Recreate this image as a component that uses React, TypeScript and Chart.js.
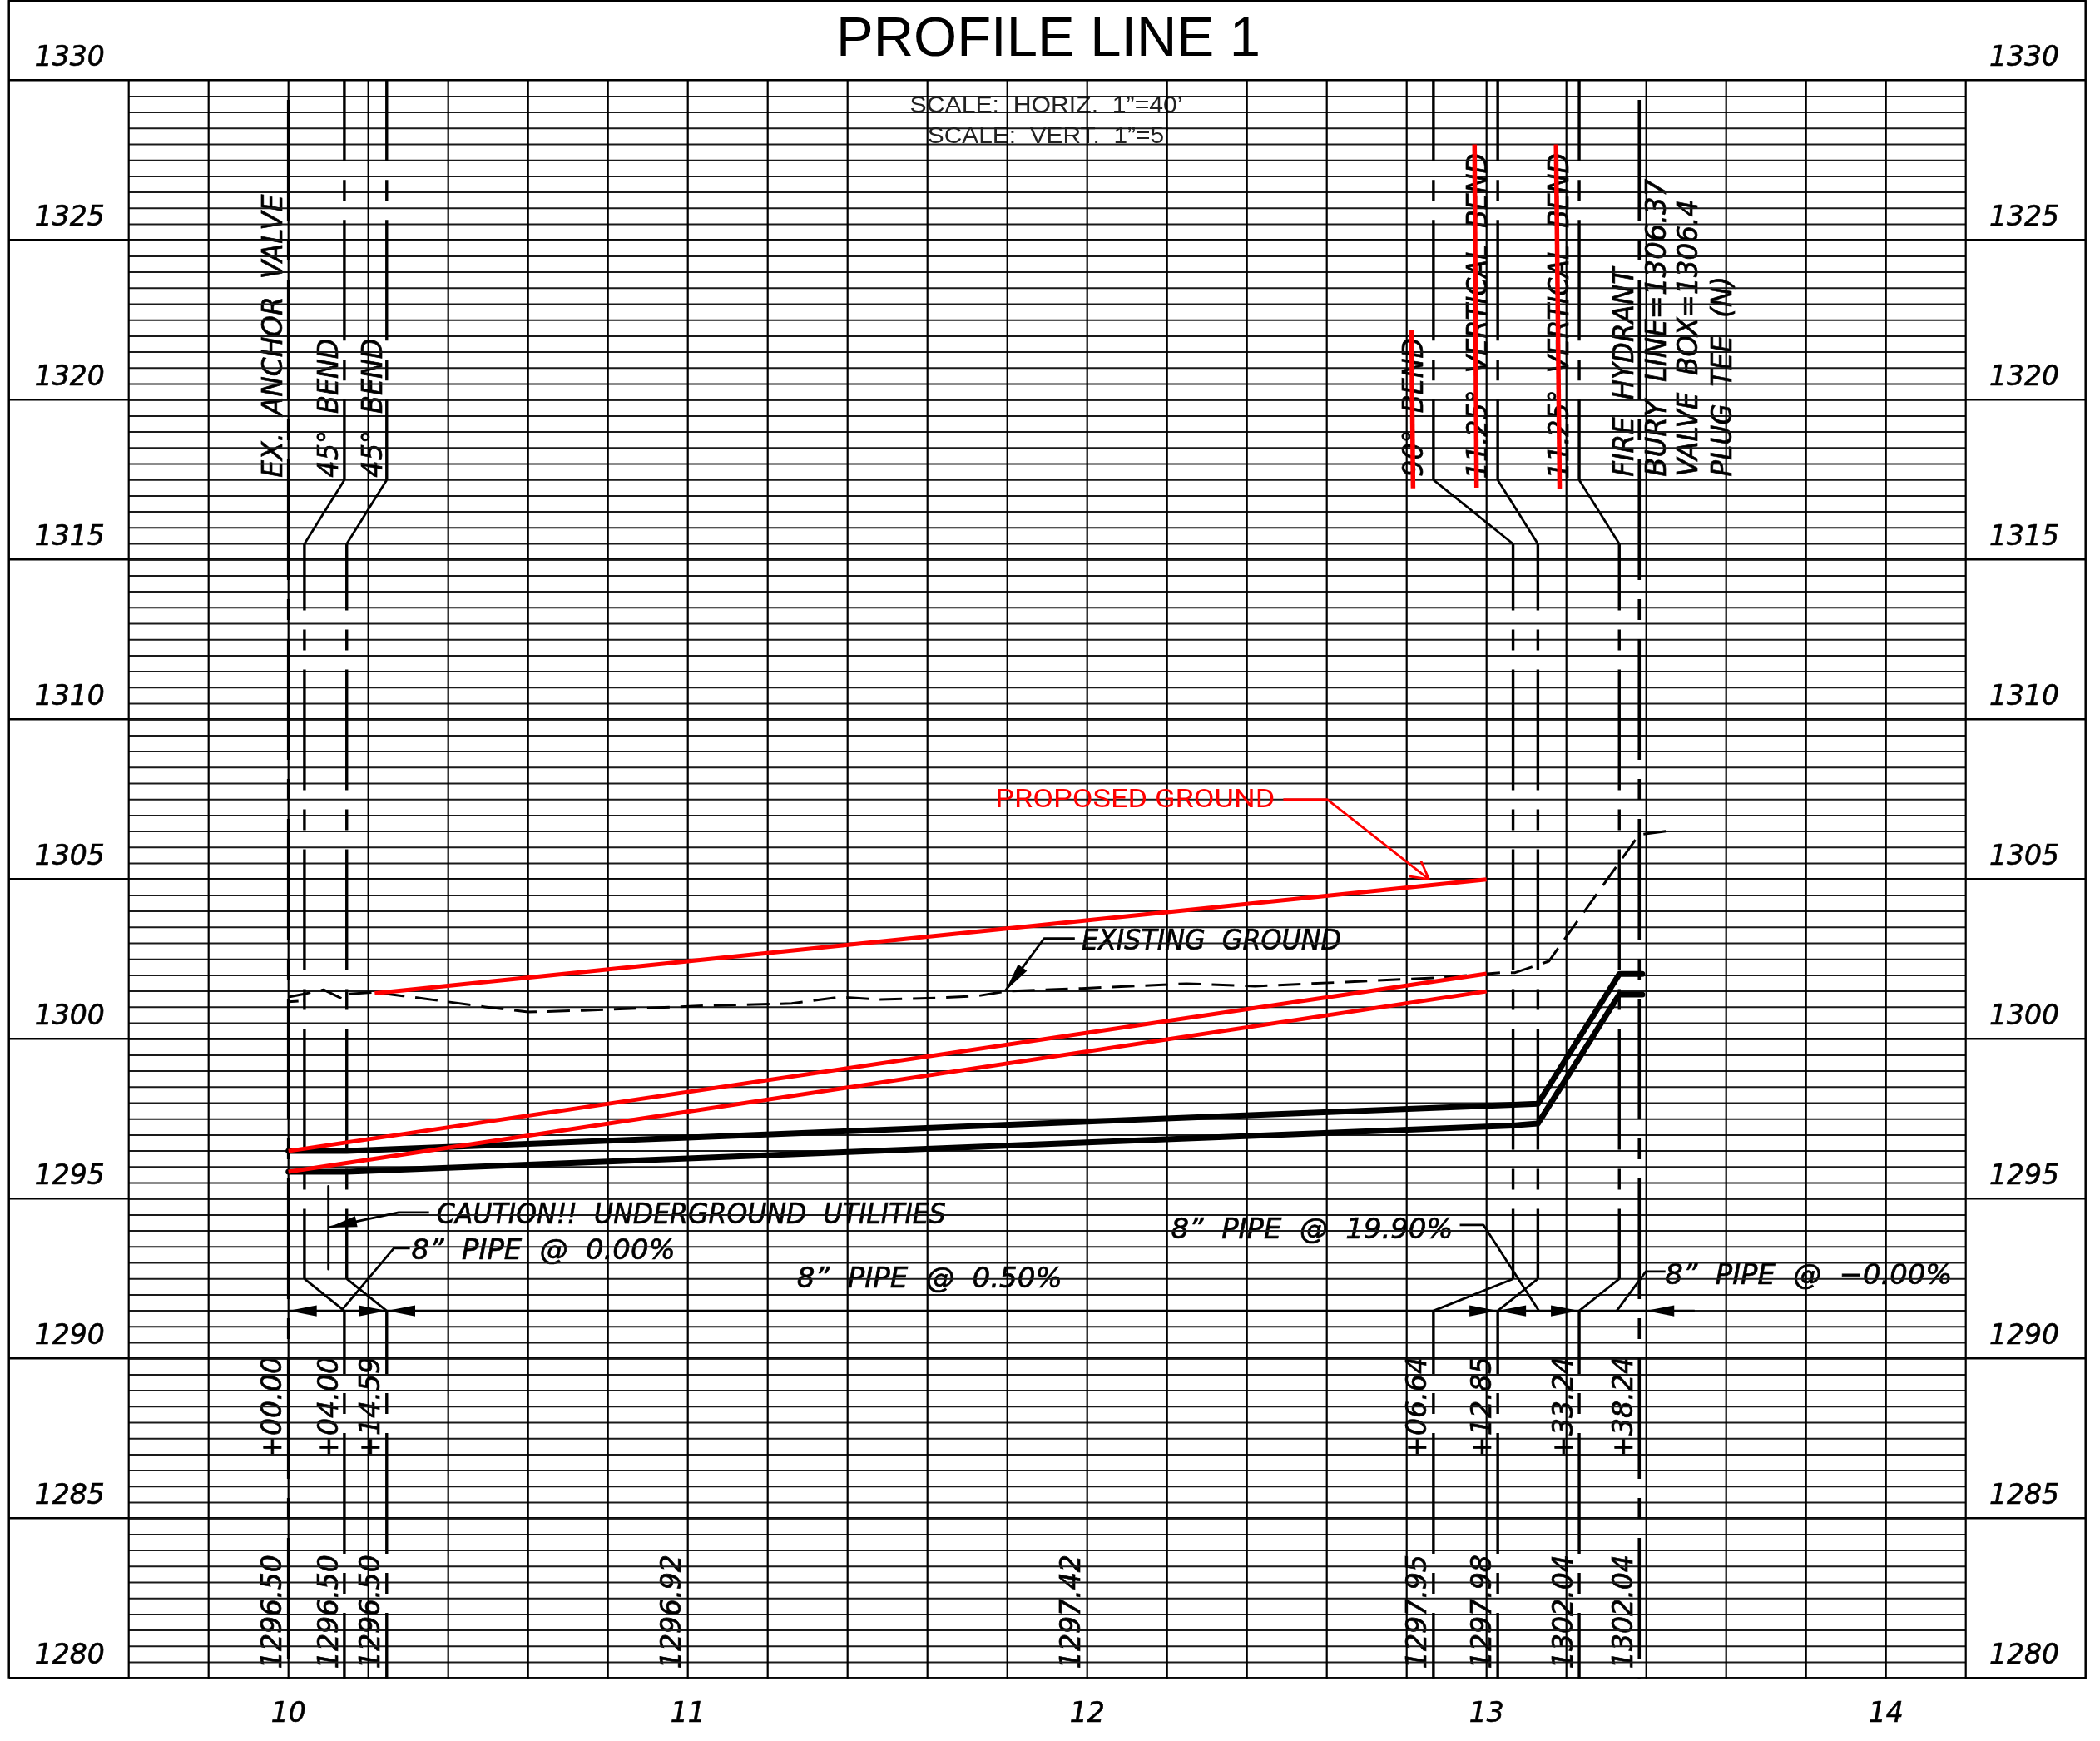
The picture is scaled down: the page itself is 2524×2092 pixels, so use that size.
import React, { useEffect, useRef } from "react";
import Chart from "chart.js/auto";

// ---- scale ranges and tick values ----
const X_MIN = 9.3, X_MAX = 14.5, Y_MIN = 1280, Y_MAX = 1332.5;
const GRID_X_MIN = 9.6, GRID_X_MAX = 14.2, GRID_Y_TOP = 1330;
const xTickValues = [10, 11, 12, 13, 14];
const yTickValues = [1280, 1285, 1290, 1295, 1300, 1305, 1310, 1315, 1320, 1325, 1330];
const gridXValues = [9.6, 9.8, 10, 10.2, 10.4, 10.6, 10.8, 11, 11.2, 11.4, 11.6, 11.8, 12, 12.2, 12.4, 12.6, 12.8, 13, 13.2, 13.4, 13.6, 13.8, 14, 14.2];

// ---- station lines ----
const stationTopX = [10.14, 10.246, 12.867, 13.028, 13.232];
const stationMidX = [10.04, 10.1459, 13.0664, 13.1285, 13.3324];
const stationBotX = [10.14, 10.246, 12.867, 13.028, 13.232];
const stationLevels = [1330, 1317.5, 1315.5, 1292.5, 1291.5, 1280];
const fullStationX = [10, 13.3824];

// ---- pipe ----
const pipeX = [10, 10.04, 10.1459, 11, 12, 13.0664, 13.1285, 13.3324, 13.3824, 13.39];
const pipeUpper = [1296.5, 1296.5, 1296.5, 1296.92, 1297.42, 1297.95, 1297.98, 1302.04, 1302.04, 1302.04];
const pipeLower = [1295.85, 1295.85, 1295.85, 1296.27, 1296.77, 1297.3, 1297.36, 1301.4, 1301.4, 1301.4];

// ---- existing ground ----
const groundX = [10, 10.04, 10.088, 10.14, 10.153, 10.215, 10.34, 10.492, 10.6, 10.738, 11.049, 11.186, 11.26, 11.38, 11.482, 11.62, 11.724, 11.796, 11.986, 12.249, 12.42, 12.648, 12.882, 13.034, 13.07, 13.156, 13.382, 13.461];
const groundY = [1301.32, 1301.42, 1301.55, 1301.23, 1301.42, 1301.47, 1301.27, 1301.01, 1300.85, 1300.9, 1301.05, 1301.09, 1301.12, 1301.32, 1301.24, 1301.29, 1301.35, 1301.5, 1301.59, 1301.74, 1301.66, 1301.79, 1301.93, 1302.08, 1302.08, 1302.44, 1306.4, 1306.53];
const groundStubX = [10, 10.04];
const groundStubY = [1301.17, 1301.2];

// ---- red mark-ups: [x0, y0, x1, y1] ----
const redGround = [
  [10.216, 1301.44, 13, 1305],
  [10, 1296.5, 13, 1302.05],
  [10, 1295.85, 13, 1301.5],
];
const redStrikes = [
  [12.812, 1322.18, 12.816, 1317.24],
  [12.97, 1328, 12.975, 1317.26],
  [13.174, 1328, 13.183, 1317.21],
];
const redLeader = [[12.491, 1307.5], [12.601, 1307.5], [12.856, 1305]];
const redArrowWingA = [[12.836, 1305.57], [12.856, 1305]];
const redArrowWingB = [[12.805, 1305.1], [12.856, 1305]];

// ---- black leaders ----
const blackLeaders = [
  [[10.352, 1294.58], [10.276, 1294.58], [10.1006, 1294.11]],
  [[10.1, 1295.4], [10.1, 1292.8]],
  [[10.304, 1293.46], [10.264, 1293.46], [10.132, 1291.5]],
  [[12.933, 1294.19], [12.992, 1294.19], [13.131, 1291.5]],
  [[13.326, 1291.5], [13.399, 1292.73], [13.448, 1292.73]],
  [[11.969, 1303.15], [11.892, 1303.15], [11.796, 1301.53]],
  [[10, 1291.5], [13.521, 1291.5]],
];
// arrow heads: tip x, tip y, tail x, tail y (tail gives the direction)
const arrowHeads = [
  [10, 1291.5, 10.2, 1291.5],
  [10.2465, 1291.5, 10.1, 1291.5],
  [10.2465, 1291.5, 10.4, 1291.5],
  [13.028, 1291.5, 12.9, 1291.5],
  [13.028, 1291.5, 13.15, 1291.5],
  [13.232, 1291.5, 13.1, 1291.5],
  [13.399, 1291.5, 13.5, 1291.5],
  [10.1006, 1294.11, 10.276, 1294.58],
  [11.796, 1301.53, 11.892, 1303.15],
];

// ---- texts ----
const titleText = "PROFILE LINE 1";
const scaleNotes = [
  { text: "SCALE:  HORIZ.  1”=40’", x: 11.556, y: 1329.01, len: 328 },
  { text: "SCALE:  VERT.  1”=5’", x: 11.6, y: 1328.04, len: 291 },
];
const flatNotes = [
  { text: "EXISTING  GROUND", x: 11.986, y: 1302.81, len: 312 },
  { text: "CAUTION!!  UNDERGROUND  UTILITIES", x: 10.371, y: 1294.24, len: 612 },
  { text: "8”  PIPE  @  0.00%", x: 10.308, y: 1293.13, len: 317 },
  { text: "8”  PIPE  @  0.50%", x: 11.273, y: 1292.24, len: 319 },
  { text: "8”  PIPE  @  19.90%", x: 12.21, y: 1293.77, len: 339 },
  { text: "8”  PIPE  @  −0.00%", x: 13.447, y: 1292.34, len: 345 },
];
const upNotes = [
  { text: "EX.  ANCHOR  VALVE", x: 9.984, y: 1317.58, len: 340 },
  { text: "45°  BEND", x: 10.124, y: 1317.58, len: 167 },
  { text: "45°  BEND", x: 10.234, y: 1317.58, len: 167 },
  { text: "90°  BEND", x: 12.84, y: 1317.6, len: 167 },
  { text: "11.25°  VERTICAL  BEND", x: 13.0, y: 1317.54, len: 391 },
  { text: "11.25°  VERTICAL  BEND", x: 13.205, y: 1317.54, len: 391 },
  { text: "FIRE  HYDRANT", x: 13.367, y: 1317.6, len: 251 },
  { text: "BURY  LINE=1306.37", x: 13.448, y: 1317.6, len: 358 },
  { text: "VALVE  BOX=1306.4", x: 13.528, y: 1317.6, len: 333 },
  { text: "PLUG  TEE  (N)", x: 13.614, y: 1317.6, len: 241 },
];
const stationLabels = ["+00.00", "+04.00", "+14.59", "+06.64", "+12.85", "+33.24", "+38.24"];
const stationLabelX = [9.982, 10.124, 10.228, 12.849, 13.012, 13.215, 13.365];
const elevationLabels = ["1296.50", "1296.50", "1296.50", "1296.92", "1297.42", "1297.95", "1297.98", "1302.04", "1302.04"];
const elevationLabelX = [9.982, 10.124, 10.228, 10.982, 11.982, 12.849, 13.012, 13.215, 13.365];
const STATION_LABEL_Y = 1286.87;
const ELEVATION_LABEL_Y = 1280.3;
const proposedNote = { text: "PROPOSED GROUND", x: 11.77, y: 1307.26, len: 336 };

// ---- helpers ----
const CAD_FONT = 'italic 34px "DejaVu Sans"';
const pts = (a: number[][]) => a.map(([x, y]) => ({ x, y }));
const GAP = { x: NaN, y: NaN };

function polyline(points: { x: number; y: number }[], color: string, width: number, extra: any = {}) {
  return {
    data: points,
    borderColor: color,
    borderWidth: width,
    showLine: true,
    pointRadius: 0,
    pointHoverRadius: 0,
    clip: false,
    tension: 0,
    fill: false,
    borderCapStyle: "butt",
    borderJoinStyle: "round",
    ...extra,
  };
}

const LONG_DASH = [145, 23, 25, 23];

function buildDatasets() {
  const red = "#ff0000";
  const sets: any[] = [];
  redGround.forEach(([a, b, c, d]) => sets.push(polyline(pts([[a, b], [c, d]]), red, 5)));
  redStrikes.forEach(([a, b, c, d]) => sets.push(polyline(pts([[a, b], [c, d]]), red, 5.5)));
  sets.push(polyline(pts(redLeader), red, 2.8));
  sets.push(polyline(pts(redArrowWingA), red, 2.8));
  sets.push(polyline(pts(redArrowWingB), red, 2.8));

  sets.push(polyline(pipeX.map((x, i) => ({ x, y: pipeUpper[i] })), "#000", 7, { borderCapStyle: "round" }));
  sets.push(polyline(pipeX.map((x, i) => ({ x, y: pipeLower[i] })), "#000", 7, { borderCapStyle: "round" }));

  sets.push(polyline(groundX.map((x, i) => ({ x, y: groundY[i] })), "#000", 3, { borderDash: [27, 13] }));
  sets.push(polyline(groundStubX.map((x, i) => ({ x, y: groundStubY[i] })), "#000", 3, { borderDash: [12, 6] }));
  blackLeaders.forEach((l) => sets.push(polyline(pts(l), "#000", 2.8)));

  fullStationX.forEach((x) =>
    sets.push(polyline([{ x, y: GRID_Y_TOP }, { x, y: Y_MIN }], "#000", 3.6, { borderDash: LONG_DASH, borderDashOffset: 192.7 }))
  );
  const [l0, l1, l2, l3, l4, l5] = stationLevels;
  stationTopX.forEach((tx, i) => {
    const mx = stationMidX[i];
    const bx = stationBotX[i];
    sets.push(polyline([{ x: tx, y: l0 }, { x: tx, y: l1 }], "#000", 3.4, { borderDash: LONG_DASH, borderDashOffset: 48.5 }));
    sets.push(polyline([{ x: tx, y: l1 }, { x: mx, y: l2 }], "#000", 2.8));
    sets.push(polyline([{ x: mx, y: l2 }, { x: mx, y: l3 }], "#000", 3.4, { borderDash: LONG_DASH, borderDashOffset: 65 }));
    sets.push(polyline([{ x: mx, y: l3 }, { x: bx, y: l4 }], "#000", 2.8));
    sets.push(polyline([{ x: bx, y: l4 }, { x: bx, y: l5 }], "#000", 3.4, { borderDash: LONG_DASH, borderDashOffset: 69 }));
  });

  // chart paper: verticals, half-unit horizontals, frame
  const verticals: any[] = [];
  gridXValues.forEach((x) => verticals.push({ x, y: GRID_Y_TOP }, { x, y: Y_MIN }, GAP));
  sets.push(polyline(verticals, "#000", 2.2));
  const horizontals: any[] = [];
  for (let v = Y_MIN; v < GRID_Y_TOP; v += 0.5) {
    horizontals.push({ x: GRID_X_MIN, y: v }, { x: GRID_X_MAX, y: v }, GAP);
  }
  sets.push(polyline(horizontals, "#1a1a1a", 2));
  sets.push(polyline(pts([[X_MIN, Y_MIN], [X_MIN, Y_MAX], [X_MAX, Y_MAX], [X_MAX, Y_MIN]]), "#000", 2.5));
  return sets;
}

function fitText(ctx: CanvasRenderingContext2D, text: string, px: number, py: number, len: number, rotate: boolean, stroke = 0) {
  ctx.save();
  ctx.translate(px, py);
  if (rotate) ctx.rotate(-Math.PI / 2);
  const w = ctx.measureText(text).width;
  ctx.scale(len / w, 1);
  ctx.fillText(text, 0, 0);
  if (stroke > 0) {
    ctx.lineWidth = stroke;
    ctx.strokeStyle = ctx.fillStyle;
    ctx.strokeText(text, 0, 0);
  }
  ctx.restore();
}

const drawingPlugin = {
  id: "drawing",
  beforeDatasetsDraw(chart: any) {
    const { ctx, scales } = chart;
    const X = (v: number) => scales.x.getPixelForValue(v);
    const Y = (v: number) => scales.y.getPixelForValue(v);
    ctx.save();
    ctx.fillStyle = "#000";
    ctx.textBaseline = "alphabetic";
    ctx.textAlign = "left";
    ctx.font = '67px "Liberation Sans"';
    fitText(ctx, titleText, 1005, Y(1330) - 30, 510, false);
    ctx.font = '27px "Liberation Sans"';
    ctx.fillStyle = "#222";
    scaleNotes.forEach((n) => fitText(ctx, n.text, X(n.x), Y(n.y), n.len, false));
    ctx.fillStyle = "#000";
    ctx.font = CAD_FONT;
    const S = 0.7;
    flatNotes.forEach((n) => fitText(ctx, n.text, X(n.x), Y(n.y), n.len, false, S));
    upNotes.forEach((n) => fitText(ctx, n.text, X(n.x), Y(n.y), n.len, true, S));
    stationLabels.forEach((t, i) => fitText(ctx, t, X(stationLabelX[i]), Y(STATION_LABEL_Y), 123, true, S));
    elevationLabels.forEach((t, i) => fitText(ctx, t, X(elevationLabelX[i]), Y(ELEVATION_LABEL_Y), 137, true, S));
    ctx.restore();
  },
  afterDatasetsDraw(chart: any) {
    const { ctx, scales } = chart;
    const X = (v: number) => scales.x.getPixelForValue(v);
    const Y = (v: number) => scales.y.getPixelForValue(v);
    ctx.save();
    ctx.fillStyle = "#000";
    arrowHeads.forEach(([tx, ty, ax, ay]) => {
      const px = X(tx), py = Y(ty);
      const d = Math.hypot(X(ax) - px, Y(ay) - py);
      const ux = (X(ax) - px) / d, uy = (Y(ay) - py) / d;
      const L = 34, H = 6.7;
      ctx.beginPath();
      ctx.moveTo(px, py);
      ctx.lineTo(px + ux * L - uy * H, py + uy * L + ux * H);
      ctx.lineTo(px + ux * L + uy * H, py + uy * L - ux * H);
      ctx.closePath();
      ctx.fill();
    });
    ctx.fillStyle = "#ff0000";
    ctx.textBaseline = "alphabetic";
    ctx.textAlign = "left";
    ctx.font = '32px Roboto';
    fitText(ctx, proposedNote.text, X(proposedNote.x), Y(proposedNote.y), proposedNote.len, false);
    ctx.restore();
  },
};

export default function App() {
  const ref = useRef<HTMLCanvasElement>(null);
  useEffect(() => {
    document.body.style.margin = "0";
    const tickFont = { family: "DejaVu Sans", size: 33, style: "italic" as const, weight: "normal" as const };
    const yAxis = (position: string, gridOn: boolean, padding: number) => ({
      type: "linear",
      position,
      min: Y_MIN,
      max: Y_MAX,
      afterBuildTicks: (s: any) => { s.ticks = yTickValues.map((value) => ({ value })); },
      afterFit: (s: any) => { s.width = 0; s.paddingTop = 0; s.paddingBottom = 0; },
      border: { display: false },
      grid: { display: gridOn, color: "#000", lineWidth: 2.5, drawTicks: false },
      ticks: {
        mirror: true,
        padding,
        labelOffset: -26,
        color: "#000",
        textStrokeColor: "#000",
        textStrokeWidth: 0.6,
        font: tickFont,
        autoSkip: false,
        callback: (v: any) => String(v),
      },
    });
    const chart = new Chart(ref.current!, {
      type: "scatter",
      data: { datasets: buildDatasets() },
      plugins: [drawingPlugin],
      options: {
        animation: false,
        responsive: false,
        devicePixelRatio: 1,
        layout: { autoPadding: false, padding: { left: 10.7, right: 17.3, top: 0.7, bottom: 0 } },
        plugins: { legend: { display: false }, tooltip: { enabled: false }, title: { display: false } },
        events: [],
        scales: {
          x: {
            type: "linear",
            min: X_MIN,
            max: X_MAX,
            afterBuildTicks: (s: any) => { s.ticks = xTickValues.map((value) => ({ value })); },
            afterFit: (s: any) => { s.height = 75.3; s.paddingLeft = 0; s.paddingRight = 0; },
            border: { display: false },
            grid: { display: false, drawTicks: false },
            ticks: { padding: 24, color: "#000", textStrokeColor: "#000", textStrokeWidth: 0.6, font: tickFont, maxRotation: 0, autoSkip: false, callback: (v: any) => String(v) },
          },
          y: yAxis("left", true, 31),
          y2: yAxis("right", false, -31.7),
        },
      } as any,
    } as any);
    return () => chart.destroy();
  }, []);
  return <canvas ref={ref} width={2524} height={2092} style={{ display: "block" }} />;
}
